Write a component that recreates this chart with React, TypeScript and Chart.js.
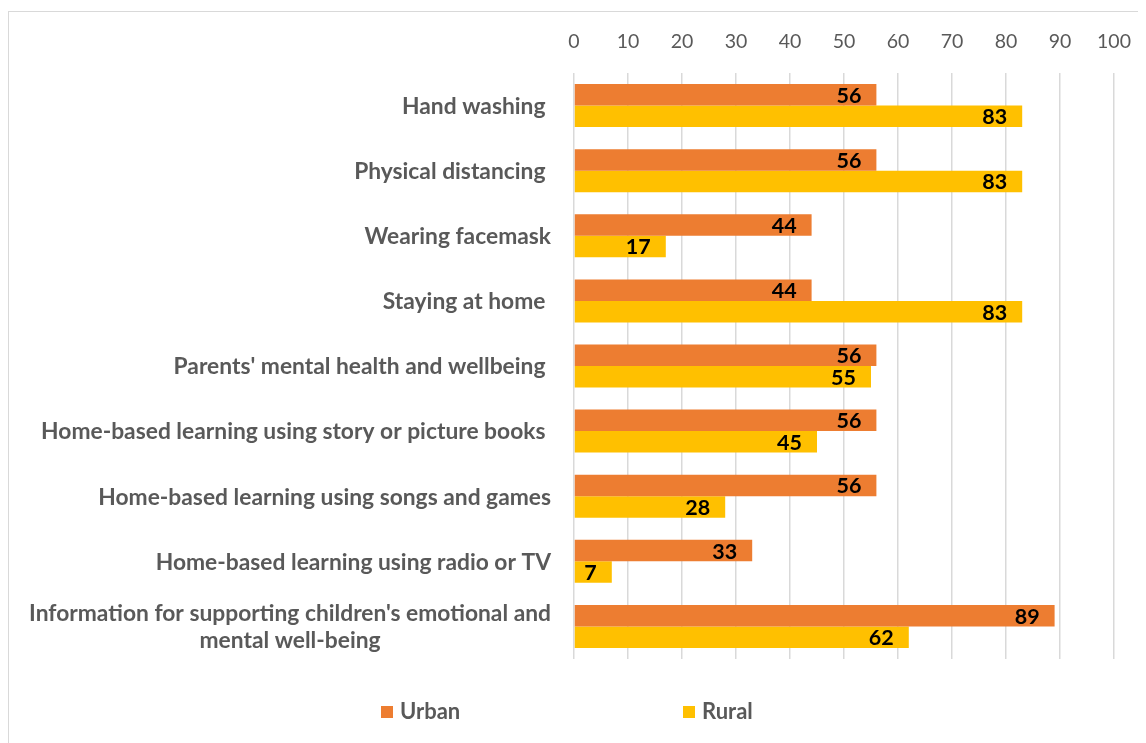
import React, { useEffect, useRef } from "react";
import { Chart, registerables } from "chart.js";

Chart.register(...registerables);

const categories: (string | string[])[] = [
  "Hand washing ",
  "Physical distancing ",
  "Wearing facemask",
  "Staying at home ",
  "Parents' mental health and wellbeing ",
  "Home-based learning using story or picture books ",
  "Home-based learning using songs and games",
  "Home-based learning using radio or TV",
  ["Information for supporting children's emotional and", "mental well-being"],
];
const urbanValues = [56, 56, 44, 44, 56, 56, 56, 33, 89];
const ruralValues = [83, 83, 17, 83, 55, 45, 28, 7, 62];
const seriesNames = ["Urban", "Rural"];
const seriesColors = ["#ED7D31", "#FFC000"];
const axisMin = 0;
const axisMax = 100;
const axisStep = 10;

const FONT = "Lato";
const TEXT_GREY = "#595959";

const yLabelPlugin = {
  id: "yLabelPlugin",
  afterDraw(chart: any) {
    const { ctx, chartArea } = chart;
    const y = chart.scales.y;
    ctx.save();
    ctx.font = `bold 22.8px ${FONT}`;
    ctx.fillStyle = TEXT_GREY;
    ctx.textBaseline = "middle";
    ctx.textAlign = "center";
    const right = chartArea.left - 23;
    const lineH = 27;
    (chart.data.labels as (string | string[])[]).forEach((lab, i) => {
      const lines = Array.isArray(lab) ? lab : [lab];
      const w = Math.max(...lines.map((l) => ctx.measureText(l).width));
      const cx = right - w / 2;
      const yc = y.getPixelForValue(i);
      lines.forEach((l, j) => {
        ctx.fillText(l, cx, yc + 1 + (j - (lines.length - 1) / 2) * lineH);
      });
    });
    ctx.restore();
  },
};

const dataLabelPlugin = {
  id: "dataLabelPlugin",
  afterDatasetsDraw(chart: any) {
    const { ctx } = chart;
    ctx.save();
    ctx.font = `bold 21.5px ${FONT}`;
    ctx.fillStyle = "#000000";
    ctx.textBaseline = "middle";
    ctx.textAlign = "right";
    chart.data.datasets.forEach((ds: any, di: number) => {
      const meta = chart.getDatasetMeta(di);
      meta.data.forEach((bar: any, i: number) => {
        ctx.fillText(String(ds.data[i]), bar.x - 15, bar.y + 1);
      });
    });
    ctx.restore();
  },
};

const legendPlugin = {
  id: "customLegend",
  afterDraw(chart: any) {
    const { ctx, chartArea } = chart;
    ctx.save();
    ctx.font = `bold 22px ${FONT}`;
    ctx.textBaseline = "middle";
    ctx.textAlign = "left";
    const startX = 372;
    const gap = 302;
    const yc = chartArea.bottom + 53;
    chart.data.datasets.forEach((ds: any, i: number) => {
      const x = startX + i * gap;
      ctx.fillStyle = ds.backgroundColor;
      ctx.fillRect(x, yc - 6, 12, 12);
      ctx.fillStyle = TEXT_GREY;
      ctx.fillText(ds.label, x + 19, yc);
    });
    ctx.restore();
  },
};

function BarChart() {
  const canvasRef = useRef<HTMLCanvasElement | null>(null);

  useEffect(() => {
    document.documentElement.style.overflow = "hidden";
    document.body.style.overflow = "hidden";
    if (!canvasRef.current) return;
    const chart = new Chart(canvasRef.current, {
      type: "bar",
      data: {
        labels: categories as any,
        datasets: [
          {
            label: seriesNames[0],
            data: urbanValues,
            backgroundColor: seriesColors[0],
            categoryPercentage: 0.66,
            barPercentage: 1.0,
          },
          {
            label: seriesNames[1],
            data: ruralValues,
            backgroundColor: seriesColors[1],
            categoryPercentage: 0.66,
            barPercentage: 1.0,
          },
        ],
      },
      options: {
        indexAxis: "y",
        animation: false,
        responsive: false,
        maintainAspectRatio: false,
        layout: {
          autoPadding: false,
          padding: { left: 0, right: 32, top: 0, bottom: 84 },
        },
        plugins: {
          legend: { display: false },
          tooltip: { enabled: false },
        },
        scales: {
          x: {
            position: "top",
            min: axisMin,
            max: axisMax,
            ticks: {
              stepSize: axisStep,
              color: TEXT_GREY,
              font: { family: FONT, size: 19.5 },
              padding: 20,
            },
            grid: { color: "#D9D9D9", lineWidth: 1.5, drawTicks: false },
            border: { display: false },
            afterFit: (s: any) => {
              s.height = 61;
              s.paddingLeft = 0;
              s.paddingRight = 0;
            },
          },
          y: {
            ticks: { display: false },
            grid: { display: false, drawTicks: false },
            border: { display: false },
            afterFit: (s: any) => {
              s.width = 565;
            },
          },
        },
      },
      plugins: [yLabelPlugin, dataLabelPlugin, legendPlugin],
    });
    return () => chart.destroy();
  }, []);

  return <canvas ref={canvasRef} width={1137} height={731} style={{ display: "block" }} />;
}

export default function App() {
  return (
    <div style={{ paddingTop: 3 }}>
      <div
        style={{
          width: 1137,
          height: 731,
          borderLeft: "1px solid #D9D9D9",
          borderTop: "1px solid #D9D9D9",
        }}
      >
        <BarChart />
      </div>
    </div>
  );
}
